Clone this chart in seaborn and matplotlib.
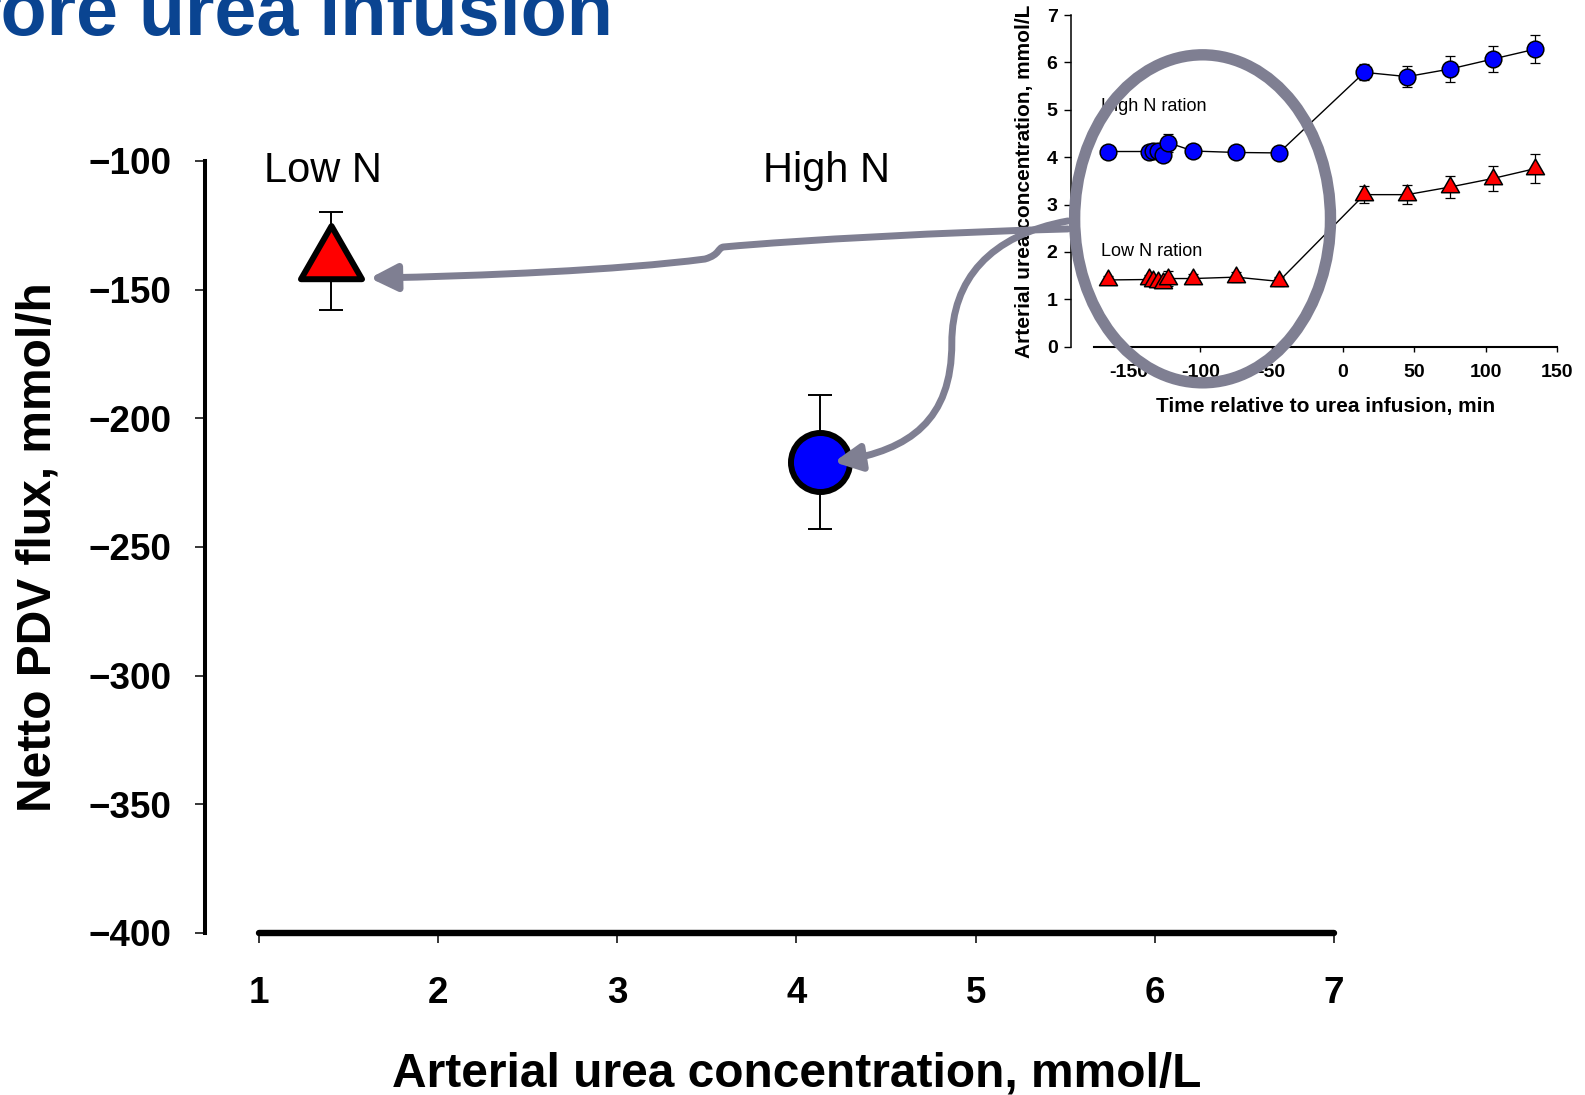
import matplotlib
matplotlib.use("Agg")
import matplotlib.pyplot as plt
import seaborn as sns
from matplotlib.path import Path
from matplotlib.patches import Ellipse, FancyArrowPatch, ArrowStyle

# ---- main panel: net PDV urea flux vs arterial urea, before infusion ----
groups = ["Low N", "High N"]
urea_conc = [1.40, 4.13]
pdv_flux = [-139.0, -217.0]
pdv_flux_se = [19.0, 26.0]
group_colors = ["#FF0000", "#0000FF"]

x_ticks = [1, 2, 3, 4, 5, 6, 7]
x_tick_labels = ["1", "2", "3", "4", "5", "6", "7"]
y_ticks = [-400, -350, -300, -250, -200, -150, -100]
y_tick_labels = ["\u2212400", "\u2212350", "\u2212300", "\u2212250",
                 "\u2212200", "\u2212150", "\u2212100"]

# ---- inset: arterial urea over time relative to infusion start ----
time_min = [-165, -136, -133, -130, -126, -123, -105, -75, -45,
            15, 45, 75, 105, 135]
high_n_urea = [4.12, 4.12, 4.13, 4.14, 4.04, 4.31, 4.13, 4.10, 4.09,
               5.79, 5.70, 5.86, 6.07, 6.28]
high_n_se = [0.08, 0.08, 0.08, 0.08, 0.08, 0.19, 0.08, 0.08, 0.08,
             0.17, 0.22, 0.27, 0.28, 0.30]
low_n_urea = [1.41, 1.42, 1.38, 1.36, 1.35, 1.44, 1.44, 1.47, 1.38,
              3.21, 3.21, 3.37, 3.55, 3.76]
low_n_se = [0.09, 0.09, 0.09, 0.09, 0.09, 0.16, 0.10, 0.10, 0.10,
            0.18, 0.20, 0.24, 0.26, 0.30]
inset_x_ticks = [-150, -100, -50, 0, 50, 100, 150]
inset_x_labels = ["-150", "-100", "-50", "0", "50", "100", "150"]
inset_y_ticks = [0, 1, 2, 3, 4, 5, 6, 7]
inset_y_labels = ["0", "1", "2", "3", "4", "5", "6", "7"]

sns.set_style("white")
plt.rcParams["font.family"] = ["Liberation Sans", "DejaVu Sans"]
plt.rcParams.update({"text.color": "black", "axes.labelcolor": "black",
                     "xtick.color": "black", "ytick.color": "black",
                     "axes.edgecolor": "black"})

ACCENT = "#7F7F92"
W, H = 1585, 1095
fig = plt.figure(figsize=(W / 100, H / 100), dpi=100)

# triangle centred on its centroid
tri = Path([(0, 0.58), (-0.5, -0.29), (0.5, -0.29), (0, 0.58)],
           [Path.MOVETO, Path.LINETO, Path.LINETO, Path.CLOSEPOLY])

# ---------------- main axes ----------------
ax_l, ax_r, ax_t, ax_b = 205, 1334, 161, 933
ax = fig.add_axes([ax_l / W, 1 - ax_b / H, (ax_r - ax_l) / W, (ax_b - ax_t) / H])
ax.set_facecolor("none")
xmin = 0.699
ax.set_xlim(xmin, 7)
ax.set_ylim(-400, -100)

ax.errorbar(urea_conc, pdv_flux, yerr=pdv_flux_se, fmt="none", ecolor="black",
            elinewidth=1.4, capsize=8.3, capthick=1.4, zorder=2, clip_on=False)
sns.scatterplot(x=[urea_conc[0]], y=[pdv_flux[0]], marker=tri, s=51 ** 2,
                color=group_colors[0], edgecolor="black", linewidth=4.3,
                ax=ax, zorder=3, clip_on=False)
sns.scatterplot(x=[urea_conc[1]], y=[pdv_flux[1]], marker="o", s=42.5 ** 2,
                color=group_colors[1], edgecolor="black", linewidth=4.3,
                ax=ax, zorder=3, clip_on=False)

for name, xs in zip(groups, [1.36, 4.165]):
    ax.text(xs, -108, name, ha="center", va="baseline", fontsize=30)

for side in ["top", "right"]:
    ax.spines[side].set_visible(False)
ax.spines["left"].set_linewidth(2.9)
ax.spines["left"].set_bounds(-400, -100)
ax.spines["bottom"].set_linewidth(4.6)
ax.spines["bottom"].set_bounds(1, 7)
ax.spines["bottom"].set_capstyle("round")

ax.set_xticks(x_ticks)
ax.set_xticklabels(x_tick_labels)
ax.set_yticks(y_ticks)
ax.set_yticklabels(y_tick_labels)
ax.tick_params(axis="y", direction="out", length=7, width=1.1, pad=17,
               labelsize=26.5, left=True)
ax.tick_params(axis="x", direction="out", length=7, width=1.1, pad=24,
               labelsize=26.5, bottom=True)
for lab in ax.get_xticklabels() + ax.get_yticklabels():
    lab.set_fontweight("bold")

ax.set_xlabel("Arterial urea concentration, mmol/L", fontsize=34.5,
              fontweight="bold")
ax.xaxis.set_label_coords((4 - xmin) / (7 - xmin), (ax_b - 1087) / (ax_b - ax_t))
ax.xaxis.label.set_verticalalignment("baseline")
ax.set_ylabel("Netto PDV flux, mmol/h", fontsize=34.5, fontweight="bold")
ax.yaxis.label.set_rotation_mode("anchor")
ax.yaxis.label.set_verticalalignment("baseline")
ax.yaxis.label.set_horizontalalignment("center")
ax.yaxis.set_label_coords((51 - ax_l) / (ax_r - ax_l), 0.5)

# ---------------- inset axes ----------------
in_l, in_r, in_t, in_b = 1070.7, 1556.8, 15, 346.8
axin = fig.add_axes([in_l / W, 1 - in_b / H, (in_r - in_l) / W, (in_b - in_t) / H])
axin.set_facecolor("none")
axin.set_xlim(-191, 150)
axin.set_ylim(0, 7)

for vals, se, col, mk, ms in [(high_n_urea, high_n_se, group_colors[1], "o", 12),
                              (low_n_urea, low_n_se, group_colors[0], tri, 15)]:
    axin.errorbar(time_min, vals, yerr=se, fmt="none", ecolor="black",
                  elinewidth=0.9, capsize=3.4, capthick=0.9, zorder=2)
    sns.lineplot(x=time_min, y=vals, color="black", lw=1.0, marker=mk,
                 markersize=ms, markerfacecolor=col, markeredgecolor="black",
                 markeredgewidth=1.1, errorbar=None, ax=axin, zorder=3)

axin.text(-170, 4.98, "High N ration", fontsize=13, ha="left", va="baseline")
axin.text(-170, 1.92, "Low N ration", fontsize=13, ha="left", va="baseline")

for side in ["top", "right"]:
    axin.spines[side].set_visible(False)
axin.spines["left"].set_linewidth(1.1)
axin.spines["bottom"].set_linewidth(1.5)
axin.spines["bottom"].set_bounds(-175, 150)
axin.set_xticks(inset_x_ticks)
axin.set_xticklabels(inset_x_labels)
axin.set_yticks(inset_y_ticks)
axin.set_yticklabels(inset_y_labels)
axin.tick_params(axis="y", direction="out", length=5, width=1.0, pad=4.5,
                 labelsize=14, left=True)
axin.tick_params(axis="x", direction="out", length=3.6, width=1.0, pad=9,
                 labelsize=14, bottom=True)
for lab in axin.get_xticklabels() + axin.get_yticklabels():
    lab.set_fontweight("bold")

axin.set_xlabel("Time relative to urea infusion, min", fontsize=15,
                fontweight="bold")
axin.xaxis.set_label_coords((-12.5 + 191) / 341, (in_b - 412) / (in_b - in_t))
axin.xaxis.label.set_verticalalignment("baseline")
axin.set_ylabel("Arterial urea concentration, mmol/L", fontsize=15,
                fontweight="bold")
axin.yaxis.label.set_rotation_mode("anchor")
axin.yaxis.label.set_verticalalignment("baseline")
axin.yaxis.label.set_horizontalalignment("center")
axin.yaxis.set_label_coords((1030 - in_l) / (in_r - in_l), 0.5)

# ---------------- highlight ring and connector arrows ----------------
ring = Ellipse((-98.5, 2.70), width=179.5, height=6.92, fill=False,
               edgecolor=ACCENT, lw=8.2, transform=axin.transData, zorder=5)
fig.add_artist(ring)

C4 = Path.CURVE4
arrow_low = Path([(5.515, -126.4), (4.856, -127.6), (4.019, -130.7), (3.595, -133.4),
                  (3.560, -133.6), (3.575, -136.4), (3.489, -138.1),
                  (3.015, -142.4), (2.233, -144.7), (1.619, -145.5)],
                 [Path.MOVETO] + [C4] * 9)
arrow_high = Path([(5.515, -123.3), (5.079, -128.8), (4.867, -146.2), (4.867, -170.7),
                   (4.867, -200.7), (4.633, -212.3), (4.209, -217.0)],
                  [Path.MOVETO] + [C4] * 6)
for p in (arrow_low, arrow_high):
    arr = FancyArrowPatch(path=p, arrowstyle=ArrowStyle("-|>", head_length=16,
                                                        head_width=8),
                          mutation_scale=1, color=ACCENT, lw=5,
                          transform=ax.transData, zorder=6)
    fig.add_artist(arr)

fig.text(613 / W, 1 - 35 / H, "Before urea infusion", ha="right", va="baseline",
         fontsize=54.4, fontweight="bold", color="#0A4491")

fig.savefig("out.png", dpi=100)
